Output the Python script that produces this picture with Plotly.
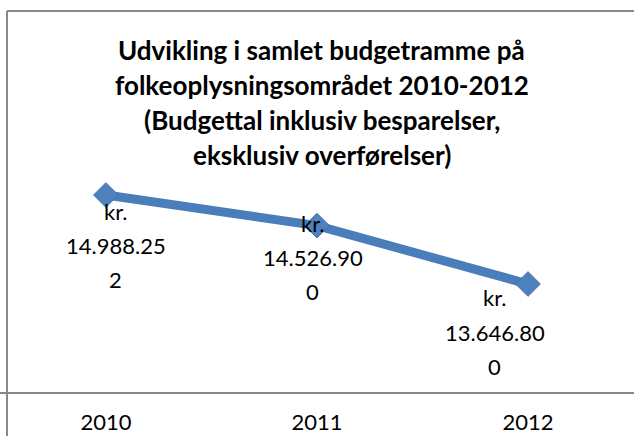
import plotly.graph_objects as go

years = ["2010", "2011", "2012"]
values = [14988252, 14526900, 13646800]
label_lines = [["kr.", "14.988.25", "2"], ["kr.", "14.526.90", "0"], ["kr.", "13.646.80", "0"]]
title_lines = [
    "Udvikling i samlet budgetramme på",
    "folkeoplysningsområdet 2010-2012",
    "(Budgettal inklusiv besparelser,",
    "eksklusiv overførelser)",
]

FONT = "Lato, Liberation Sans, Arial, sans-serif"
LINE_COL = "#4a7ebb"
W, H = 634, 436
PLOT_BOTTOM = 392

# label placement (pixel offsets from the data point)
label_dx = [10, -4, -33]
label_dy = [[16, 50, 84], [-2, 32, 66], [13, 48, 82]]
title_y = [50, 85, 120, 155]

fig = go.Figure()
fig.add_trace(go.Scatter(
    x=[0, 1, 2], y=values, mode="lines+markers",
    line=dict(color=LINE_COL, width=9),
    marker=dict(symbol="diamond", size=19, color="#4f81bd",
                line=dict(color="#3d6fae", width=1)),
    hoverinfo="skip", showlegend=False,
))

for i, (v, lines) in enumerate(zip(values, label_lines)):
    for ln, dy in zip(lines, label_dy[i]):
        fig.add_annotation(x=i, y=v, xref="x", yref="y", text=ln, showarrow=False,
                           xanchor="center", yanchor="middle",
                           xshift=label_dx[i], yshift=-dy,
                           font=dict(family=FONT, size=22, color="#000000"))

for ln, ty in zip(title_lines, title_y):
    fig.add_annotation(x=322 / W, y=1 - ty / PLOT_BOTTOM, xref="paper", yref="paper",
                       text=f"<b>{ln}</b>", showarrow=False,
                       xanchor="center", yanchor="middle",
                       font=dict(family=FONT, size=26, color="#000000"))

fig.update_layout(
    width=W, height=H,
    margin=dict(l=0, r=0, t=0, b=H - PLOT_BOTTOM, pad=0),
    paper_bgcolor="white", plot_bgcolor="white",
    font=dict(family=FONT, size=22, color="#000000"),
    xaxis=dict(range=[-0.502, 2.5024], showgrid=False,
               tickmode="array", tickvals=[0, 1, 2], ticktext=years,
               showline=True, linecolor="#868686", linewidth=2,
               ticks="", ticklabelstandoff=10, zeroline=False,
               tickfont=dict(family=FONT, size=22, color="#000000")),
    yaxis=dict(range=[12019068, 17927212], visible=False, showgrid=False),
)

# chart border (top and left visible portions)
fig.add_shape(type="line", xref="paper", yref="paper", x0=7 / W, x1=1.05,
              y0=1 - 11 / PLOT_BOTTOM, y1=1 - 11 / PLOT_BOTTOM,
              line=dict(color="#898989", width=2))
fig.add_shape(type="line", xref="paper", yref="paper", x0=7 / W, x1=7 / W,
              y0=1 - 11 / PLOT_BOTTOM, y1=-0.2,
              line=dict(color="#898989", width=2))

fig.write_html("out.html", config={"displayModeBar": False, "staticPlot": True},
               post_script="document.body.style.margin='0';document.body.style.padding='0';")
